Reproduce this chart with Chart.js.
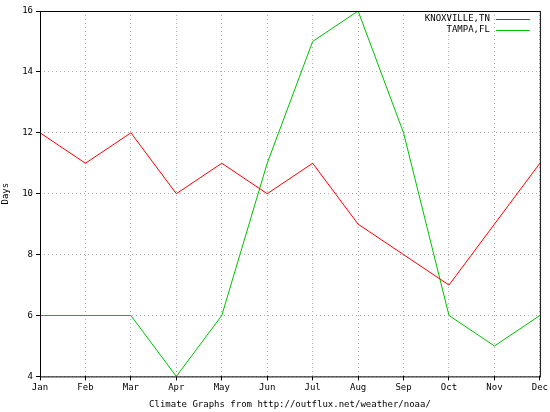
<!DOCTYPE html>
<html>
<head>
<script src="https://cdn.jsdelivr.net/npm/chart.js@4"></script>
<style>body{margin:0;background:#fff}#c{display:block}</style>
</head>
<body>
<div style="width:550px;height:412px"><canvas id="c"></canvas></div>
<script>
const months = ['Jan','Feb','Mar','Apr','May','Jun','Jul','Aug','Sep','Oct','Nov','Dec'];
const knoxville = [12,11,12,10,11,10,11,9,8,7,9,11];
const tampa = [6,6,6,4,6,11,15,16,12,6,5,6];
const yTicks = [4,6,8,10,12,14,16];

const FONT = {family:'DejaVu Sans Mono', size:9};

// legend drawn gnuplot style: label then line sample
const gpLegend = {
  id:'gpLegend',
  afterDraw(chart){
    const c = chart.ctx, a = chart.chartArea;
    c.save();
    c.font = '9px "DejaVu Sans Mono"';
    c.textAlign = 'right'; c.textBaseline = 'middle';
    chart.data.datasets.forEach((ds,i)=>{
      const y = a.top + 8 + i*11;
      c.fillStyle = '#000';
      c.fillText(ds.label, a.right - 50, y);
      c.strokeStyle = ds.borderColor; c.lineWidth = 1;
      c.beginPath(); c.moveTo(a.right-44, y+0.5); c.lineTo(a.right-10, y+0.5); c.stroke();
    });
    c.strokeStyle = '#000';
    c.strokeRect(a.left+0.5, a.top+0.5, a.right-a.left, a.bottom-a.top);
    c.restore();
  }
};

new Chart(document.getElementById('c'), {
  type:'line',
  data:{
    labels: months,
    datasets:[
      {label:'KNOXVILLE,TN', data:knoxville, borderColor:'#ff0000', borderWidth:1, pointRadius:0, tension:0},
      {label:'TAMPA,FL', data:tampa, borderColor:'#00c000', borderWidth:1, pointRadius:0, tension:0}
    ]
  },
  plugins:[gpLegend],
  options:{
    responsive:true, maintainAspectRatio:false, animation:false,
    layout:{padding:{top:11, right:9, left:0, bottom:0}},
    plugins:{legend:{display:false}, tooltip:{enabled:false}},
    scales:{
      x:{
        offset:false,
        grid:{color:'#b0b0b0', tickLength:4, tickColor:'#000'},
        border:{display:false, dash:[1,3]},
        ticks:{color:'#000', font:FONT, maxRotation:0, padding:2},
        title:{display:true, text:'Climate Graphs from http://outflux.net/weather/noaa/', color:'#000', font:FONT, padding:{top:4,bottom:2}}
      },
      y:{
        min:4, max:16,
        afterBuildTicks(s){ s.ticks = yTicks.map(v=>({value:v})); },
        afterFit(s){ s.width = 40; },
        grid:{color:'#b0b0b0', tickLength:4, tickColor:'#000'},
        border:{display:false, dash:[1,3]},
        ticks:{color:'#000', font:FONT, padding:3},
        title:{display:true, text:'Days', color:'#000', font:FONT, padding:0}
      }
    }
  }
});
</script>
</body>
</html>
